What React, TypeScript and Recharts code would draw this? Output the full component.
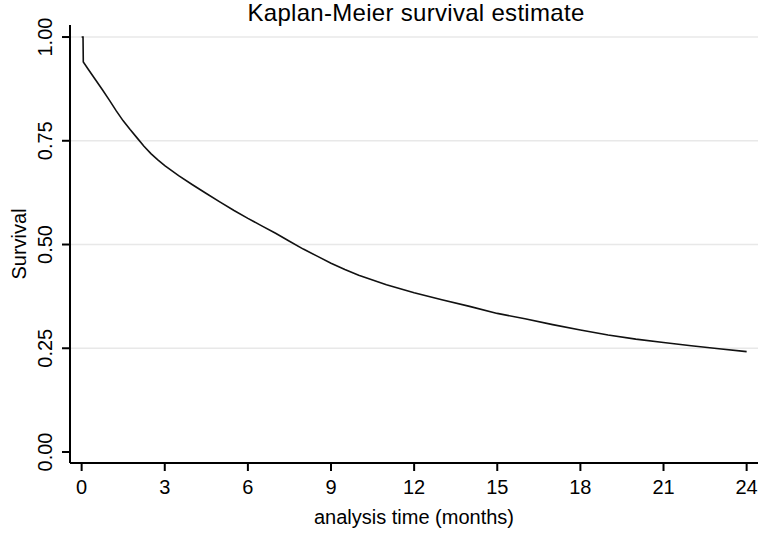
import { Label, Line, LineChart, ReferenceLine, XAxis, YAxis } from "recharts";

const months = [
  0, 0.05, 0.06, 0.25, 0.5, 0.75, 1, 1.25, 1.5, 1.75, 2, 2.25, 2.5, 2.75, 3,
  3.5, 4, 4.5, 5, 5.5, 6, 6.5, 7, 7.5, 8, 8.5, 9, 9.5, 10, 11, 12, 13, 14, 15,
  16, 17, 18, 19, 20, 21, 22, 23, 24,
];
const survival = [
  1.0, 1.0, 0.94, 0.921, 0.897, 0.873, 0.848, 0.822, 0.798, 0.777, 0.757,
  0.737, 0.719, 0.704, 0.69, 0.666, 0.644, 0.623, 0.602, 0.582, 0.563, 0.545,
  0.527, 0.508, 0.489, 0.472, 0.455, 0.44, 0.426, 0.403, 0.384, 0.367, 0.351,
  0.334, 0.321, 0.307, 0.294, 0.282, 0.272, 0.264, 0.256, 0.249, 0.242,
];
const xTicks = [0, 3, 6, 9, 12, 15, 18, 21, 24];
const yTicks = [0, 0.25, 0.5, 0.75, 1];
const gridValues = [0.25, 0.5, 0.75, 1];

const FONT = '"Liberation Sans", Arial, sans-serif';

const data = months.map((t, i) => ({ t, s: survival[i] }));

function YTick({ x, y, payload }: { x: number; y: number; payload: { value: number } }) {
  return (
    <text
      x={x}
      y={y}
      transform={`rotate(-90 ${x} ${y})`}
      textAnchor="middle"
      fontSize={20}
      fontFamily={FONT}
      fill="#000"
    >
      {payload.value.toFixed(2)}
    </text>
  );
}

export default function App() {
  return (
    <div style={{ position: "absolute", left: 0, top: 0, background: "#fff" }}>
      <LineChart
        width={760}
        height={535}
        data={data}
        margin={{ top: 25, right: 2, bottom: 0, left: 0 }}
      >
        <text
          x={416}
          y={21}
          textAnchor="middle"
          fontSize={24}
          letterSpacing={0.3}
          fontFamily={FONT}
          fill="#000"
        >
          Kaplan-Meier survival estimate
        </text>
        {gridValues.map((v) => (
          <ReferenceLine key={v} y={v} stroke="#e8e8e8" strokeWidth={1.5} />
        ))}
        <XAxis
          dataKey="t"
          type="number"
          domain={[-0.42, 24.41]}
          ticks={xTicks}
          height={72}
          axisLine={{ stroke: "#000", strokeWidth: 2 }}
          tickLine={{ stroke: "#000", strokeWidth: 2 }}
          tickSize={8}
          tickMargin={9}
          tick={{ fontSize: 20, fill: "#000", fontFamily: FONT }}
          allowDataOverflow
        >
          <Label
            content={({ viewBox }: any) => (
              <text
                x={viewBox.x + viewBox.width / 2}
                y={viewBox.y + 61}
                textAnchor="middle"
                fontSize={20}
                fontFamily={FONT}
                fill="#000"
              >
                analysis time (months)
              </text>
            )}
          />
        </XAxis>
        <YAxis
          type="number"
          domain={[-0.0265, 1.029]}
          ticks={yTicks}
          width={70}
          axisLine={{ stroke: "#000", strokeWidth: 2 }}
          tickLine={{ stroke: "#000", strokeWidth: 2 }}
          tickSize={8}
          tickMargin={10}
          tick={(p: any) => <YTick {...p} />}
          allowDataOverflow
        >
          <Label
            content={({ viewBox }: any) => {
              const x = viewBox.x + 26;
              const y = viewBox.y + viewBox.height / 2;
              return (
                <text
                  x={x}
                  y={y}
                  transform={`rotate(-90 ${x} ${y})`}
                  textAnchor="middle"
                  fontSize={20}
                  fontFamily={FONT}
                  fill="#000"
                >
                  Survival
                </text>
              );
            }}
          />
        </YAxis>
        <Line
          dataKey="s"
          type="linear"
          stroke="#111"
          strokeWidth={1.6}
          dot={false}
          activeDot={false}
          isAnimationActive={false}
        />
      </LineChart>
    </div>
  );
}
